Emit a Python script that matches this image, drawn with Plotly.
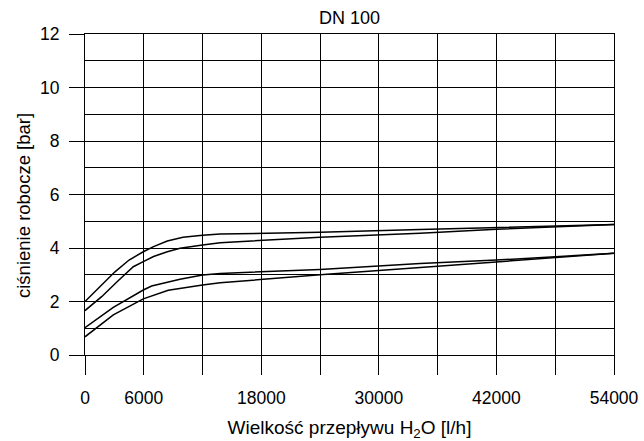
import plotly.graph_objects as go

# Data
flow_a = [0, 1500, 3060, 4500, 5950, 7000, 8400, 10000, 12000, 13800, 24000, 34200, 42000, 54000]
pres_a = [2.00, 2.55, 3.11, 3.55, 3.86, 4.05, 4.26, 4.40, 4.48, 4.52, 4.59, 4.69, 4.77, 4.88]

flow_b = [0, 1700, 3300, 4930, 5950, 7000, 8400, 9700, 12000, 13800, 24000, 34200, 42000, 54000]
pres_b = [1.66, 2.18, 2.75, 3.30, 3.49, 3.68, 3.86, 3.99, 4.11, 4.20, 4.40, 4.55, 4.70, 4.88]

flow_c = [0, 2890, 5950, 6800, 9700, 12000, 13800, 24000, 34200, 42000, 54000]
pres_c = [1.02, 1.78, 2.43, 2.58, 2.83, 2.99, 3.05, 3.20, 3.42, 3.55, 3.80]

flow_d = [0, 2890, 5950, 8500, 12000, 13800, 24000, 34200, 42000, 54000]
pres_d = [0.68, 1.50, 2.10, 2.42, 2.62, 2.70, 3.00, 3.28, 3.48, 3.80]

x_tickvals = [0, 6000, 12000, 18000, 24000, 30000, 36000, 42000, 48000, 54000]
x_ticktext = ["0", "6000", "", "18000", "", "30000", "", "42000", "", "54000"]
y_tickvals = [0, 2, 4, 6, 8, 10, 12]

FONT = "Liberation Sans, Arial, sans-serif"

fig = go.Figure()
for fx, fy in [(flow_a, pres_a), (flow_b, pres_b), (flow_c, pres_c), (flow_d, pres_d)]:
    fig.add_trace(go.Scatter(x=fx, y=fy, mode="lines",
                             line=dict(color="black", width=1.5),
                             showlegend=False, hoverinfo="skip"))

fig.update_layout(
    width=644, height=441,
    margin=dict(l=85, r=30, t=34, b=86),
    paper_bgcolor="white", plot_bgcolor="white",
    font=dict(family=FONT, color="black", size=17),
    title=dict(text="DN 100", x=0.5, xref="paper", xanchor="center",
               y=1 - 18 / 441, yanchor="middle",
               font=dict(family=FONT, size=18, color="black")),
    annotations=[dict(text="ciśnienie robocze [bar]", textangle=-90,
                      xref="paper", yref="paper",
                      x=-(85 - 23) / 529, y=(355 - 206) / 321,
                      xanchor="center", yanchor="middle", showarrow=False,
                      font=dict(family=FONT, size=18.5, color="black"))],
)

fig.update_xaxes(
    range=[0, 54000], automargin=False,
    tickmode="array", tickvals=x_tickvals, ticktext=x_ticktext,
    ticks="outside", ticklen=19, tickwidth=1, tickcolor="black",
    ticklabelstandoff=8,
    showgrid=True, gridcolor="black", gridwidth=1,
    showline=True, linecolor="black", linewidth=1, mirror=True,
    zeroline=False,
    tickfont=dict(family=FONT, size=17.5, color="black"),
    title=dict(text="Wielkość przepływu H<sub>2</sub>O [l/h]",
               font=dict(family=FONT, size=19, color="black"), standoff=14),
)

fig.update_yaxes(
    range=[0, 12], automargin=False,
    tickmode="array", tickvals=y_tickvals,
    ticks="outside", ticklen=15, tickwidth=1, tickcolor="black",
    ticklabelstandoff=6,
    showgrid=True, gridcolor="black", gridwidth=1,
    minor=dict(dtick=1, showgrid=True, gridcolor="black", gridwidth=1, ticks=""),
    showline=True, linecolor="black", linewidth=1, mirror=True,
    zeroline=False,
    tickfont=dict(family=FONT, size=17.5, color="black"),
)

fig.write_html("out.html")
